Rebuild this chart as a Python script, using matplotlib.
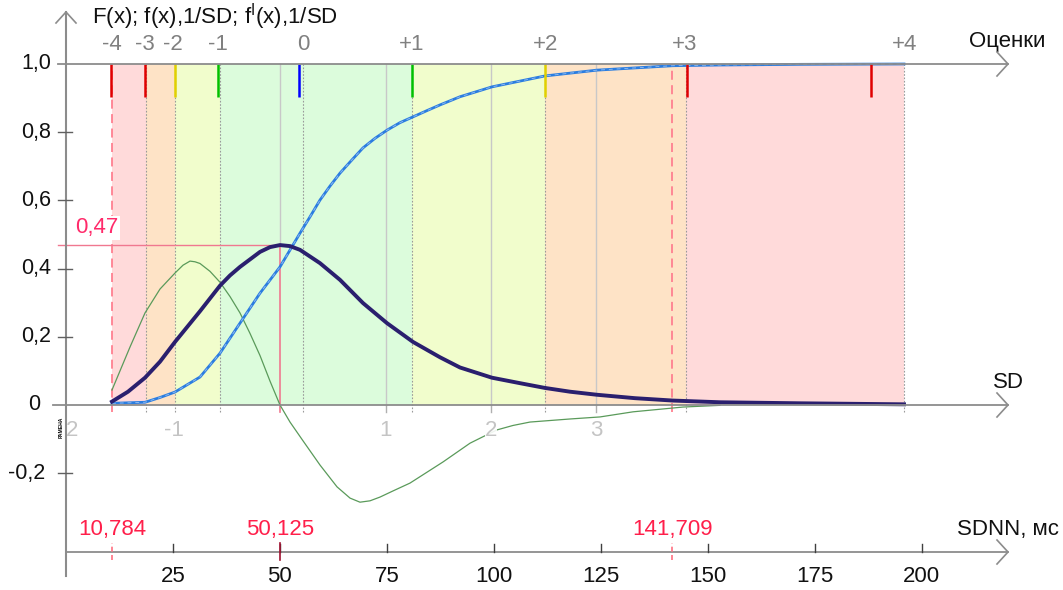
import matplotlib
matplotlib.use("Agg")
import matplotlib.pyplot as plt

plt.rcParams['font.family'] = ['Liberation Sans', 'DejaVu Sans']
plt.rcParams['mathtext.fontset'] = 'custom'
plt.rcParams['mathtext.rm'] = 'Liberation Sans'

# ---------------- data ----------------
zone_edges = [10.784, 18.8, 25.5, 36.0, 80.8, 111.9, 144.9, 195.8]
zone_colors = ['#ffdada', '#fee3c6', '#f1fdcc', '#dcfcdc', '#f1fdcc', '#fee3c6', '#ffdada']
dotted_x = [18.8, 25.5, 36.0, 55.4, 80.8, 111.9, 144.9, 195.8]

score_labels = ['-4', '-3', '-2', '-1', '0', '+1', '+2', '+3', '+4']
score_pos = [10.7, 18.5, 25.0, 35.5, 55.4, 80.8, 112.2, 144.7, 196.1]
mark_pos = [10.5, 18.5, 25.5, 35.5, 54.5, 80.9, 112.0, 145.2, 188.2]
mark_colors = ['#e00000', '#e00000', '#e0d000', '#00c000', '#0000ff', '#00c000', '#e0d000', '#e00000', '#e00000']

sd_grid = [50.125, 74.8, 99.4, 124.0]
sd_label_pos = [1.4, 25.2, 74.8, 99.3, 123.9]
sd_labels = ['2', '-1', '1', '2', '3']

y_ticks = [1.0, 0.8, 0.6, 0.4, 0.2, 0.0, -0.2]
y_tick_labels = ['1,0', '0,8', '0,6', '0,4', '0,2', '0', '-0,2']
x_ticks = [25, 50, 75, 100, 125, 150, 175, 200]

key_values = [10.784, 50.125, 141.709]
key_labels = ['10,784', '50,125', '141,709']
peak_value = 0.469
peak_label = '0,47'

pdf_x = [10.75, 14.49, 18.47, 21.97, 25.48, 31.32, 36.0, 38.34, 40.67, 45.35, 47.69, 50.02,
         52.36, 54.7, 59.37, 64.05, 69.42, 75.04, 81.11, 87.42, 92.1, 99.58, 106.12, 111.97,
         117.81, 124.12, 133.0, 141.89, 152.88, 171.58, 195.89]
pdf_y = [0.01, 0.039, 0.08, 0.127, 0.185, 0.275, 0.35, 0.38, 0.405, 0.449, 0.463, 0.469,
         0.466, 0.455, 0.416, 0.367, 0.299, 0.24, 0.185, 0.14, 0.11, 0.08, 0.064, 0.05,
         0.039, 0.03, 0.02, 0.013, 0.008, 0.005, 0.002]

cdf_x = [10.75, 18.47, 21.97, 25.48, 31.32, 36.0, 40.67, 45.35, 50.02, 54.7, 57.04, 59.37,
         61.71, 64.05, 66.78, 69.42, 72.23, 75.04, 78.07, 81.11, 84.32, 87.42, 92.1, 99.58,
         111.97, 124.12, 141.89, 152.88, 171.58, 195.89]
cdf_y = [0.005, 0.008, 0.022, 0.038, 0.082, 0.152, 0.24, 0.328, 0.405, 0.504, 0.552, 0.601,
         0.642, 0.68, 0.718, 0.754, 0.782, 0.806, 0.828, 0.845, 0.863, 0.88, 0.904, 0.933,
         0.965, 0.982, 0.995, 0.997, 0.999, 1.0]

der_x = [10.75, 14.96, 18.47, 21.97, 25.48, 27.35, 28.99, 30.15, 31.32, 33.66, 36.0, 38.34,
         40.67, 43.01, 45.35, 47.69, 50.02, 52.36, 55.4, 59.37, 63.35, 66.39, 68.72, 71.06,
         73.4, 76.44, 80.41, 88.13, 94.44, 97.48, 100.75, 104.49, 108.46, 117.81, 124.83,
         132.55, 144.23, 152.88]
der_y = [0.044, 0.17, 0.27, 0.34, 0.387, 0.41, 0.422, 0.42, 0.415, 0.392, 0.36, 0.318,
         0.27, 0.21, 0.145, 0.07, 0.0, -0.05, -0.105, -0.176, -0.24, -0.273, -0.285, -0.281,
         -0.27, -0.252, -0.229, -0.167, -0.112, -0.093, -0.073, -0.06, -0.05, -0.041, -0.035,
         -0.02, -0.006, -0.001]

# ---------------- figure ----------------
W, H = 1063, 590
fig = plt.figure(figsize=(W / 100, H / 100), dpi=100)
ax = fig.add_axes([0, 0, 1, 1])
ax.axis('off')

PX0, SX = 66.0, 4.278     # pixel of x=0, pixels per ms
PY0, SY = 405.0, 341.0    # pixel of y=0, pixels per unit
ax.set_xlim(-PX0 / SX, (W - PX0) / SX)
ax.set_ylim((PY0 - H) / SY, PY0 / SY)

def dx(p):  # pixel length -> data x length
    return p / SX

def dy(p):
    return p / SY

def ypx(p):  # pixel row -> data y
    return (PY0 - p) / SY

def xpx(p):
    return (p - PX0) / SX

AX_END = xpx(1008)
Y_SDNN = ypx(552)
axis_col = '#8c8c8c'
FS = 16

# zones
for i in range(len(zone_colors)):
    ax.fill_between([zone_edges[i], zone_edges[i + 1]], 0, 1.0, color=zone_colors[i], lw=0, zorder=1)

# SD grid lines
for g in sd_grid[1:]:
    ax.plot([g, g], [0, 1.0], color='#c8c8c8', lw=1.0, zorder=2)
ax.plot([sd_grid[0], sd_grid[0]], [peak_value, 1.0], color='#c8c8c8', lw=1.0, zorder=2)

# dotted boundaries
for d in dotted_x:
    ax.plot([d, d], [-dy(7), 1.0], color='#9a9a9a', lw=0.8, ls=(0, (1.5, 1.5)), zorder=2)
for g in sd_grid[1:]:
    ax.plot([g, g], [-dy(7), 0], color='#b0b0b0', lw=1.0, zorder=2)

# red dashed lines at key values
for k in (key_values[0], key_values[2]):
    ax.plot([k, k], [-dy(7), 1.0], color='#ff8090', lw=1.3, ls=(0, (5, 3)), zorder=3)

# top coloured marks
for p, c in zip(mark_pos, mark_colors):
    ax.plot([p, p], [1.0 - dy(33), 1.0], color=c, lw=1.8, zorder=6, solid_capstyle='butt')

# peak lines
ax.plot([-dx(8), key_values[1]], [peak_value, peak_value], color='#f07890', lw=1.0, zorder=3)
ax.plot([key_values[1], key_values[1]], [-dy(7), peak_value], color='#f07890', lw=1.2, zorder=3)
ax.text(xpx(97), ypx(228), peak_label, color='#ff2a6a', fontsize=FS, ha='center',
        va='center', zorder=7, bbox=dict(facecolor='white', edgecolor='none', pad=1.0))

# curves
ax.plot(der_x, der_y, color='#5a9a5a', lw=0.9, zorder=4)
ax.plot(cdf_x, cdf_y, color='#2b7de0', lw=2.0, zorder=5)
ax.plot(cdf_x, cdf_y, color='#8ab8f0', lw=0.7, ls=(0, (4, 4)), zorder=5)
ax.plot(pdf_x, pdf_y, color='#2a1f6e', lw=2.8, zorder=5)

# axes lines
ax.plot([0, 0], [ypx(576), ypx(12)], color=axis_col, lw=1.5, zorder=8)
ax.plot([-dx(10), 0, dx(10)], [ypx(23), ypx(12), ypx(23)], color=axis_col, lw=1.2, zorder=8)
for yy, start in ((1.0, -dx(8)), (0.0, -dx(13)), (Y_SDNN, 0)):
    ax.plot([start, AX_END], [yy, yy], color=axis_col, lw=1.3, zorder=8)
    ax.plot([AX_END - dx(11), AX_END, AX_END - dx(11)], [yy + dy(12), yy, yy - dy(12)],
            color=axis_col, lw=1.2, zorder=8)

# y ticks
for t, lab in zip(y_ticks, y_tick_labels):
    if t not in (0.0, 1.0):
        ax.plot([-dx(8), dx(6)], [t, t], color='#606060', lw=1.0, zorder=8)
    xc = xpx(36) if lab != '-0,2' else xpx(27)
    if lab == '0':
        xc = xpx(34)
    ax.text(xc, t, lab, fontsize=15.5, ha='center', va='center', color='#111111')

# title
ax.text(xpx(92), ypx(17), r'F(x); f(x),1/SD; f$^{\mathregular{I}}$(x),1/SD',
        fontsize=16, ha='left', va='center', color='#111111')

# score labels
for p, lab in zip(score_pos, score_labels):
    ax.text(p, ypx(45), lab, fontsize=FS, ha='center', va='center', color='#808080')
ax.text(xpx(1007), ypx(42), 'Оценки', fontsize=FS, ha='center', va='center', color='#111111')

# SD labels
for p, lab in zip(sd_label_pos, sd_labels):
    ax.text(p, ypx(431), lab, fontsize=FS, ha='center', va='center', color='#c4c4c4', zorder=6,
            bbox=dict(facecolor='white', edgecolor='none', pad=0.0, alpha=0.9))
ax.text(xpx(1008), ypx(382), 'SD', fontsize=FS, ha='center', va='center', color='#111111')
ax.text(xpx(61), ypx(427), 'РАМЕНА', fontsize=3.6, rotation=90, ha='center',
        va='center', color='black', fontweight='bold', zorder=9)

# SDNN axis
for t in x_ticks:
    ax.plot([t, t], [Y_SDNN, Y_SDNN + dy(8)], color='#404040', lw=1.0, zorder=8)
    ax.text(t, ypx(577), str(t), fontsize=FS, ha='center', va='center', color='#111111')
ax.text(xpx(1008), ypx(529), 'SDNN, мс', fontsize=FS, ha='center', va='center', color='#111111')
for k, lab in zip(key_values, key_labels):
    ls = '-' if k == key_values[1] else (0, (3, 2))
    col = '#a01030' if k == key_values[1] else '#ff7080'
    ax.plot([k, k], [Y_SDNN - dy(8), Y_SDNN + dy(9)], color=col, lw=1.2, ls=ls, zorder=9)
    ax.text(k, ypx(530), lab, fontsize=FS, ha='center', va='center', color='#ff1f4a')

fig.savefig('out.png', dpi=100)
